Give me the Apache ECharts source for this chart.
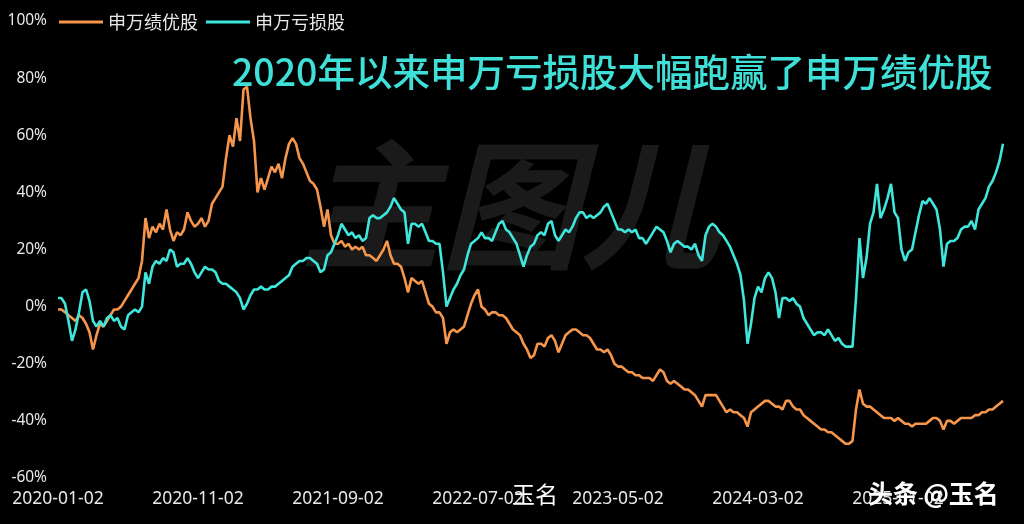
<!DOCTYPE html>
<html><head><meta charset="utf-8">
<script src="https://cdn.jsdelivr.net/npm/echarts@6/dist/echarts.min.js"></script>
<style>html,body{margin:0;padding:0;background:#000;}#c{width:1024px;height:524px;}</style>
</head><body><div id="c"></div>
<script>
// x: months since 2020-01-02, sampled every quarter month
const START_MONTH = 0;
const STEP_MONTH = 0.25;
const tickLabels = ['2020-01-02','2020-11-02','2021-09-02','2022-07-02','2023-05-02','2024-03-02','2025-01-02'];
const seriesNames = ['申万绩优股','申万亏损股'];
const youxiu = [
-1,-1,-2,-3,-4,-5,-3,-4,-6,-9,
-15,-10,-6,-7,-5,-3,-1,-1,0,2,
4,6,8,10,16,31,24,28,26,29,
27,34,27,23,26,25,27,33,30,28,
29,31,28,30,36,38,40,42,52,60,
56,66,58,76,77,66,58,40,45,41,
45,49,47,50,45,52,57,59,57,52,
50,47,44,43,41,35,28,34,25,22,
22,23,21,22,20,21,20,21,18,18,
17,16,18,20,23,18,15,15,14,10,
5,10,9,8,9,5,1,0,-2,-2,
-4,-13,-9,-8,-9,-8,-7,-3,1,4,
6,0,-1,-3,-2,-2,-3,-3,-4,-6,
-8,-9,-10,-13,-15,-18,-17,-13,-13,-14,
-11,-10,-12,-16,-13,-10,-9,-8,-8,-9,
-10,-10,-11,-13,-15,-15,-16,-15,-17,-20,
-21,-21,-22,-23,-23,-24,-24,-25,-25,-25,
-26,-24,-22,-23,-26,-27,-26,-27,-28,-29,
-29,-30,-31,-33,-35,-31,-31,-31,-31,-33,
-35,-37,-36,-37,-37,-38,-39,-42,-37,-36,
-35,-34,-33,-33,-34,-35,-35,-36,-33,-33,
-35,-36,-36,-38,-39,-40,-41,-42,-43,-43,
-44,-44,-45,-46,-47,-48,-48,-47,-36,-29,
-34,-35,-35,-36,-37,-38,-39,-39,-39,-40,
-39,-40,-41,-41,-42,-41,-41,-41,-41,-40,
-39,-39,-40,-43,-40,-40,-41,-40,-39,-39,
-39,-39,-38,-38,-37,-37,-36,-36,-35,-34,-33];
const kuisun = [
3,3,1,-5,-12,-8,-2,5,6,2,
-5,-7,-5,-7,-4,-3,-5,-4,-7,-8,
-3,-2,-1,-2,0,12,8,14,16,15,
17,16,20,19,14,15,15,17,15,12,
10,12,14,13,13,12,9,8,8,7,
6,5,3,-1,1,4,6,6,7,6,
6,7,7,8,9,10,11,14,15,16,
16,17,17,16,15,12,13,18,19,22,
25,29,27,25,26,24,25,23,24,31,
32,31,31,32,33,35,38,36,34,33,
22,29,29,28,29,26,23,23,22,22,
12,0,3,6,8,11,13,18,22,23,
24,26,24,24,23,26,29,30,27,26,
24,22,18,14,18,21,22,25,26,25,
29,30,25,23,25,27,26,28,31,33,
33,31,32,31,32,33,35,36,33,30,
27,27,26,27,26,27,24,24,22,24,
26,28,27,26,23,19,22,23,22,21,
21,20,22,18,16,25,28,29,28,26,
25,23,21,18,15,11,2,-13,-6,3,
7,5,10,12,10,5,-4,3,3,2,
3,1,0,-4,-6,-8,-10,-9,-9,-10,
-8,-10,-12,-11,-13,-14,-14,-14,3,24,
10,17,29,33,43,31,34,38,43,33,
31,20,16,19,20,26,32,37,36,38,
36,34,27,14,22,23,23,24,27,28,
28,30,27,34,36,38,42,44,47,51,57];
const yTicks = [-60,-40,-20,0,20,40,60,80,100];

const toXY = arr => arr.map((v,i)=>[START_MONTH + i*STEP_MONTH, v]);
const chart = echarts.init(document.getElementById('c'), null, {renderer:'canvas'});
chart.setOption({
  backgroundColor:'#000',
  animation:false,
  color:['#f6964c','#3fe6dc'],
  legend:{left:54,top:8,icon:'rect',itemWidth:44,itemHeight:3,itemGap:8,
    textStyle:{color:'#e8e8e8',fontSize:18,fontFamily:'Noto Sans CJK SC'},
    data:seriesNames},
  title:{text:'2020年以来申万亏损股大幅跑赢了申万绩优股',left:227,top:48,
    textStyle:{color:'#3fe0d8',fontSize:37.5,fontWeight:500,fontFamily:'Noto Sans CJK SC'}},
  grid:{left:58,right:14,top:21,bottom:46},
  xAxis:{type:'value',min:0,max:68,interval:10,
    axisLine:{show:false},axisTick:{show:false},splitLine:{show:false},
    axisLabel:{color:'#e8e8e8',fontSize:17.5,margin:12,fontFamily:'Noto Sans',
      formatter:v=>tickLabels[Math.round(v/10)]||''}},
  yAxis:{type:'value',min:yTicks[0],max:yTicks[yTicks.length-1],interval:20,
    axisLine:{show:false},axisTick:{show:false},splitLine:{show:false},
    axisLabel:{color:'#e8e8e8',fontSize:15.5,margin:11,fontFamily:'Noto Sans',formatter:'{value}%'}},
  graphic:[
    {type:'text',left:300,top:135,z:-10,silent:true,
      style:{text:'主图儿',fill:'#1a1a1a',font:'italic bold 140px "Noto Sans CJK SC"'}},
    {type:'text',left:512,top:483,z:100,
      style:{text:'玉名',fill:'#ffffff',font:'23px "Noto Sans CJK SC"'}},
    {type:'text',left:868,top:481,z:100,
      style:{text:'头条 @玉名',fill:'#ffffff',font:'bold 25px "Noto Sans CJK SC"'}}
  ],
  series:[
    {name:seriesNames[0],type:'line',data:toXY(youxiu),symbol:'none',lineStyle:{width:2.6},z:3},
    {name:seriesNames[1],type:'line',data:toXY(kuisun),symbol:'none',lineStyle:{width:2.6},z:4}
  ]
});
</script></body></html>
